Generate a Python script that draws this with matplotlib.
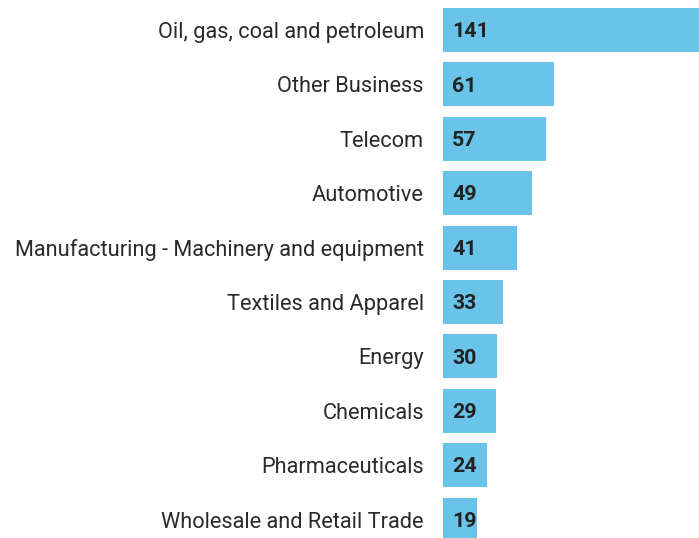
import matplotlib.pyplot as plt

categories = ["Oil, gas, coal and petroleum", "Other Business", "Telecom", "Automotive",
              "Manufacturing - Machinery and equipment", "Textiles and Apparel", "Energy",
              "Chemicals", "Pharmaceuticals", "Wholesale and Retail Trade"]
values = [141, 61, 57, 49, 41, 33, 30, 29, 24, 19]

plt.rcParams['font.family'] = ['Roboto', 'DejaVu Sans']

fig = plt.figure(figsize=(6.99, 5.38), dpi=100)
ax = fig.add_axes([443 / 699, 0, 256 / 699, 1])

ypos = list(range(len(values)))
ax.barh(ypos, values, height=0.81, color="#6AC4EA")

# value labels inside the bars
for y, v in zip(ypos, values):
    ax.text(5.0, y + 0.03, str(v), va="center", ha="left", fontsize=15.4,
            fontweight="bold", color="#222222")

ax.set_yticks(ypos)
ax.set_yticklabels(categories, fontsize=15.7, color="#2a2a2a")
ax.tick_params(axis="y", length=0, pad=13.7)
ax.set_xticks([])
ax.set_xlim(0, 141)
ax.set_ylim((538 - 30) / 54.4, -30 / 54.4)
for s in ax.spines.values():
    s.set_visible(False)

fig.savefig("out.png", dpi=100)
